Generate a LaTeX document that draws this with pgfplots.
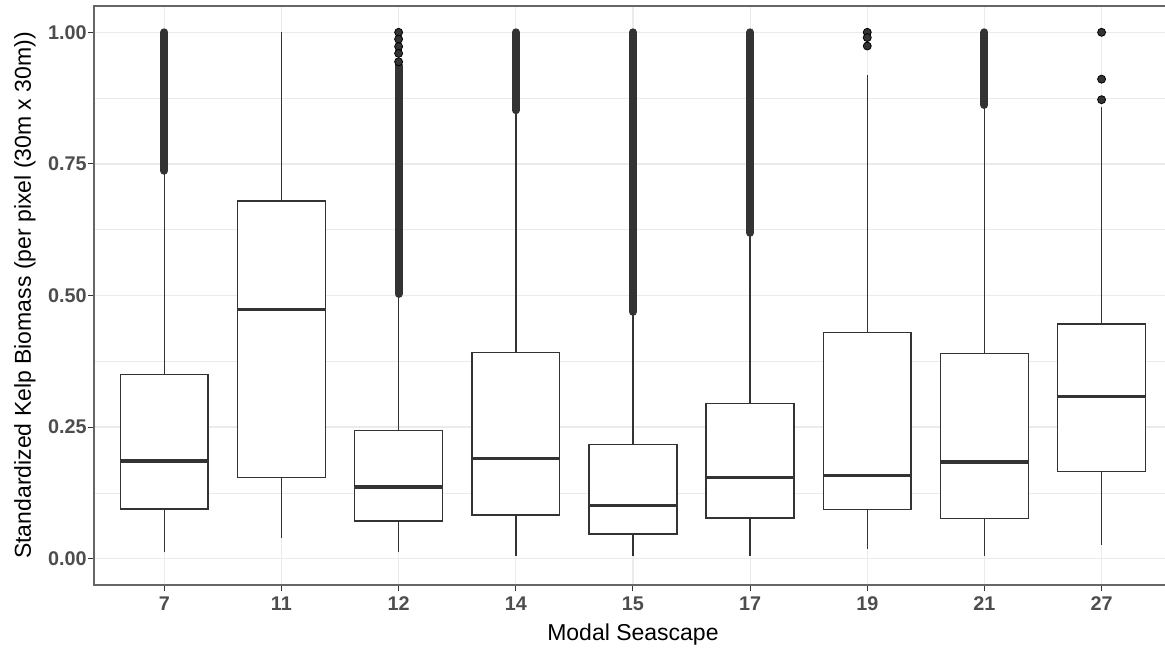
\documentclass[border=0pt]{standalone}
\usepackage{pgfplots}
\pgfplotsset{compat=1.18}
\usepgfplotslibrary{statistics}
\usepackage{fontspec}
\setmainfont{Liberation Sans}
\definecolor{g20}{HTML}{333333}
\definecolor{g30}{HTML}{4D4D4D}
\definecolor{g92}{HTML}{EBEBEB}
\definecolor{border}{HTML}{666666}
\pgfplotsset{
  kbox/.style={draw=g20, line width=0.75pt, fill=white,
    boxplot/draw direction=y,
    boxplot/every whisker/.style={line width=0.75pt},
    boxplot/every box/.style={line width=0.75pt},
    boxplot/every median/.style={line width=1.6pt}},
  dense/.style={g20, line width=4pt, line cap=round},
  outl/.style={only marks, mark=*, mark size=2pt, mark options={draw=none, fill=g20}},
}
\begin{document}
\begin{tikzpicture}
\useasboundingbox (0,0) rectangle (582.5pt,323.5pt);
\clip (0,0) rectangle (582.5pt,323.5pt);
\begin{axis}[
  at={(47pt,31pt)}, anchor=south west,
  scale only axis, width=538.95pt, height=289.5pt,
  xmin=0.4, xmax=9.6, ymin=-0.05, ymax=1.05,
  xtick={1,...,9}, xticklabels={7,11,12,14,15,17,19,21,27},
  ytick={0,0.25,0.5,0.75,1}, yticklabels={0.00,0.25,0.50,0.75,1.00},
  minor ytick={0.125,0.375,0.625,0.875},
  grid=both,
  major grid style={g92, line width=0.6pt},
  minor grid style={g92, line width=0.35pt},
  tick align=outside, tick pos=left,
  major tick length=3pt, minor tick length=0pt,
  tick style={g20, line width=0.5pt},
  axis line style={border, line width=0.6pt},
  ticklabel style={font=\fontsize{9.9}{11}\selectfont\bfseries, text=g30},
  yticklabel style={anchor=east, inner sep=0pt, xshift=-0.5pt},
  xticklabel style={anchor=base, inner sep=0pt, yshift=-9.5pt},
  xlabel={Modal Seascape},
  ylabel={Standardized Kelp Biomass (per pixel (30m x 30m))},
  label style={font=\fontsize{11.5}{13}\selectfont, text=black},
  xlabel style={at={(axis description cs:0.5,0)}, anchor=base, yshift=-27.5pt},
  ylabel style={at={(axis description cs:-0.064,0.5)}, anchor=center},
]
% 7
\addplot[kbox, boxplot prepared={draw position=1, lower whisker=0.013, lower quartile=0.094, median=0.1856, upper quartile=0.350, upper whisker=0.733, box extend=0.75, whisker extend=0}] coordinates {};
\addplot[dense] coordinates {(1,0.737) (1,1.0)};
% 11
\addplot[kbox, boxplot prepared={draw position=2, lower whisker=0.040, lower quartile=0.1545, median=0.473, upper quartile=0.680, upper whisker=1.0, box extend=0.75, whisker extend=0}] coordinates {};
% 12
\addplot[kbox, boxplot prepared={draw position=3, lower whisker=0.013, lower quartile=0.072, median=0.136, upper quartile=0.2436, upper whisker=0.500, box extend=0.75, whisker extend=0}] coordinates {};
\addplot[dense] coordinates {(3,0.503) (3,0.937)};
\addplot[outl] coordinates {(3,1.0) (3,0.987) (3,0.973) (3,0.960) (3,0.944)};
% 14
\addplot[kbox, boxplot prepared={draw position=4, lower whisker=0.0057, lower quartile=0.0826, median=0.1905, upper quartile=0.392, upper whisker=0.849, box extend=0.75, whisker extend=0}] coordinates {};
\addplot[dense] coordinates {(4,0.852) (4,1.0)};
% 15
\addplot[kbox, boxplot prepared={draw position=5, lower whisker=0.0057, lower quartile=0.047, median=0.101, upper quartile=0.2165, upper whisker=0.466, box extend=0.75, whisker extend=0}] coordinates {};
\addplot[dense] coordinates {(5,0.469) (5,1.0)};
% 17
\addplot[kbox, boxplot prepared={draw position=6, lower whisker=0.0057, lower quartile=0.077, median=0.1545, upper quartile=0.2947, upper whisker=0.616, box extend=0.75, whisker extend=0}] coordinates {};
\addplot[dense] coordinates {(6,0.619) (6,1.0)};
% 19
\addplot[kbox, boxplot prepared={draw position=7, lower whisker=0.0176, lower quartile=0.093, median=0.158, upper quartile=0.430, upper whisker=0.919, box extend=0.75, whisker extend=0}] coordinates {};
\addplot[outl] coordinates {(7,1.0) (7,0.99) (7,0.974)};
% 21
\addplot[kbox, boxplot prepared={draw position=8, lower whisker=0.005, lower quartile=0.0763, median=0.1837, upper quartile=0.390, upper whisker=0.859, box extend=0.75, whisker extend=0}] coordinates {};
\addplot[dense] coordinates {(8,0.862) (8,1.0)};
% 27
\addplot[kbox, boxplot prepared={draw position=9, lower whisker=0.026, lower quartile=0.166, median=0.308, upper quartile=0.4456, upper whisker=0.858, box extend=0.75, whisker extend=0}] coordinates {};
\addplot[outl] coordinates {(9,1.0) (9,0.911) (9,0.872)};
\end{axis}
\end{tikzpicture}
\end{document}
